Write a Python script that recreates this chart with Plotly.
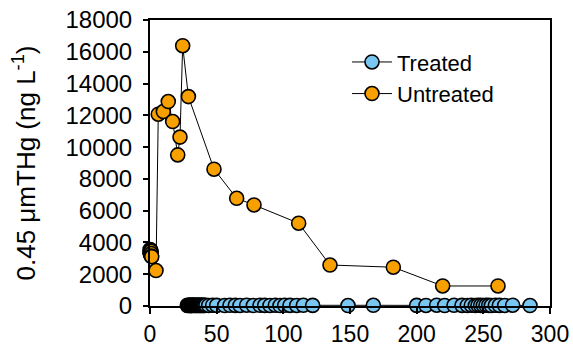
import plotly.graph_objects as go

# Untreated series (days, ng/L)
untreated_days = [0.0, 0.1, 0.2, 0.3, 0.4, 0.5, 0.6, 0.7, 0.8, 0.9, 1.0, 1.3, 4.5, 6.2, 10.0, 13.7, 17.0,
                  20.8, 22.5, 24.5, 28.8, 48.0, 65.0, 78.0, 111.5, 135.0, 182.5, 219.5, 261.0]
untreated_vals = [3400, 3550, 3300, 3450, 3250, 3500, 3350, 3200, 3450, 3300, 3150, 3100, 2230, 12070,
                  12240, 12870, 11610, 9510, 10630, 16380, 13180, 8610, 6780, 6360, 5210, 2580, 2440,
                  1260, 1260]

# Treated series (days, ng/L) - all near zero
treated_days = [28, 28.5, 29, 29.5, 30, 30.5, 31, 31.5, 32, 32.5, 33, 33.5, 34, 34.5, 35, 35.5, 36, 36.5,
                37, 37.5, 38, 38.5, 39, 39.5, 40, 40.5, 41, 42,
                44, 47, 50, 56, 60, 64, 67.5, 72.5, 77.5, 82.5, 86, 90, 94, 97.5, 101, 105, 110, 115, 122,
                148.5, 167.5, 200, 207, 215, 221, 228, 234, 238, 241, 244, 246, 248, 250, 252, 254, 256,
                259, 262, 266, 272, 285]
treated_vals = [40, 35, 50, 30, 45, 25, 40, 55, 30, 45, 35, 50, 40, 30, 45, 35, 50, 40,
                30, 45, 40, 35, 50, 30, 45, 40, 35, 50,
                35, 50, 40, 30, 45, 40, 35, 50, 30, 45, 40, 35, 50, 30, 45, 40, 35, 45, 40,
                30, 45, 40, 35, 50, 30, 45, 40, 35, 50, 30, 45, 40, 35, 45, 40, 30,
                45, 40, 35, 50, 30]

x_ticks = [0, 50, 100, 150, 200, 250, 300]
y_ticks = [0, 2000, 4000, 6000, 8000, 10000, 12000, 14000, 16000, 18000]

FONT = "Arial, Liberation Sans, sans-serif"

fig = go.Figure()
fig.add_trace(go.Scatter(
    x=treated_days, y=treated_vals, mode="lines+markers", name="Treated",
    line=dict(color="black", width=1),
    marker=dict(size=14, color="#79c6f0", line=dict(color="black", width=1.6)),
    cliponaxis=False,
))
fig.add_trace(go.Scatter(
    x=untreated_days, y=untreated_vals, mode="lines+markers", name="Untreated",
    line=dict(color="black", width=1),
    marker=dict(size=14, color="#f7a000", line=dict(color="black", width=1.6)),
    cliponaxis=False,
))

fig.update_layout(
    width=573, height=349,
    margin=dict(l=150, r=23, t=20, b=43),
    paper_bgcolor="white", plot_bgcolor="white",
    font=dict(family=FONT, size=23, color="black"),
    showlegend=True,
    legend=dict(x=0.4925, y=0.926, xanchor="left", yanchor="top",
                font=dict(size=22, family=FONT), bgcolor="rgba(0,0,0,0)",
                itemwidth=40, tracegroupgap=0),
)
fig.update_xaxes(
    range=[0, 300], tickvals=x_ticks, ticktext=[str(v) for v in x_ticks],
    showline=True, linecolor="black", linewidth=2, mirror=True,
    ticks="outside", ticklen=6, tickwidth=2, tickcolor="black",
    showgrid=False, zeroline=False, ticklabelstandoff=0, automargin=False,
    tickfont=dict(size=23, family=FONT),
)
fig.update_yaxes(
    range=[0, 18000], tickvals=y_ticks, ticktext=[str(v) for v in y_ticks],
    showline=True, linecolor="black", linewidth=2, mirror=True,
    ticks="outside", ticklen=5, tickwidth=2, tickcolor="black",
    showgrid=False, zeroline=False, ticklabelstandoff=6, automargin=False,
    tickfont=dict(size=24, family=FONT),
    title=dict(text="0.45 μmTHg (ng L<sup>-1</sup>)", font=dict(size=26, family=FONT), standoff=22),
)

fig.write_html("out.html")
